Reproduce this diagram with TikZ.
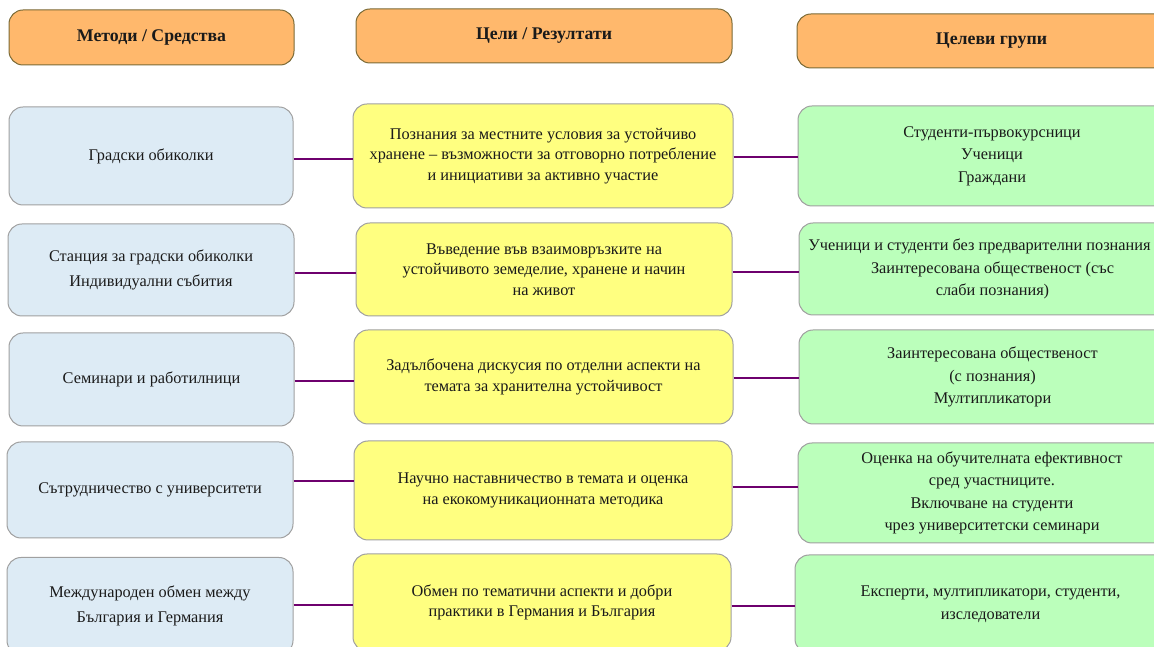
\documentclass[tikz,border=0pt]{standalone}
\usepackage{fontspec}
\setmainfont{Liberation Serif}
\definecolor{headfill}{HTML}{FFB86C}
\definecolor{headline}{HTML}{7A6A36}
\definecolor{methfill}{HTML}{DDEBF5}
\definecolor{goalfill}{HTML}{FFFF80}
\definecolor{groupfill}{HTML}{BBFFBB}
\definecolor{boxline}{HTML}{A0A0A0}
\definecolor{linkcol}{HTML}{6E006E}
\definecolor{textcol}{HTML}{1A1A1A}
\tikzset{
  box/.style={draw=boxline, line width=1bp, rounded corners=14bp, align=center,
    inner sep=0pt, text=textcol, font=\fontsize{16.3bp}{20.5bp}\selectfont},
  headbox/.style={box, draw=headline, fill=headfill,
    font=\fontsize{17.8bp}{20bp}\selectfont\bfseries},
  methbox/.style={box, fill=methfill, font=\fontsize{16.3bp}{25bp}\selectfont},
  goalbox/.style={box, fill=goalfill},
  groupbox/.style={box, fill=groupfill, font=\fontsize{16.3bp}{22.5bp}\selectfont},
  link/.style={draw=linkcol, line width=2.2bp},
}
\begin{document}
\begin{tikzpicture}
\useasboundingbox (0bp,0bp) rectangle (1154bp,647bp);
\clip (0bp,0bp) rectangle (1154bp,647bp);
%%
  % Node: head1
  \node[headbox, minimum width=285bp, minimum height=55bp] (head1) at (151.5bp,609.5bp) {Методи / Средства};
  % Node: head2
  \node[headbox, minimum width=376bp, minimum height=54bp] (head2) at (544bp,611bp) {Цели / Резултати};
  % Node: head3
  \node[headbox, minimum width=389bp, minimum height=54bp] (head3) at (991.5bp,606bp) {Целеви групи};
%
  % Node: m1
  \node[methbox, minimum width=284bp, minimum height=98bp] (m1) at (151bp,491bp) {Градски обиколки};
  % Node: r1
  \node[goalbox, minimum width=380bp, minimum height=104bp] (r1) at (543bp,491bp)
    {Познания за местните условия за устойчиво\\хранене – възможности за отговорно потребление\\и инициативи за активно участие};
  % Node: g1
  \node[groupbox, minimum width=388bp, minimum height=100bp] (g1) at (992bp,491bp)
    {Студенти-първокурсници\\Ученици\\Граждани};
%
  % Node: m2
  \node[methbox, minimum width=286bp, minimum height=92bp] (m2) at (151bp,377bp)
    {Станция за градски обиколки\\Индивидуални събития};
  % Node: r2
  \node[goalbox, minimum width=376bp, minimum height=93bp] (r2) at (544bp,377.5bp)
    {Въведение във взаимовръзките на\\устойчивото земеделие, хранене и начин\\на живот};
  % Node: g2
  \node[groupbox, minimum width=387bp, minimum height=92bp] (g2) at (992.5bp,378bp)
    {\hspace*{-26bp}Ученици и студенти без предварителни познания\\Заинтересована общественост (със\\слаби познания)};
%
  % Node: m3
  \node[methbox, minimum width=285bp, minimum height=93bp] (m3) at (151.5bp,267.5bp) {Семинари и работилници};
  % Node: r3
  \node[goalbox, minimum width=379bp, minimum height=94bp] (r3) at (543.5bp,270bp)
    {Задълбочена дискусия по отделни аспекти на\\темата за хранителна устойчивост};
  % Node: g3
  \node[groupbox, minimum width=387bp, minimum height=94bp] (g3) at (992.5bp,270bp)
    {Заинтересована общественост\\(с познания)\\Мултипликатори};
%
  % Node: m4
  \node[methbox, minimum width=286bp, minimum height=96bp] (m4) at (150bp,157bp) {Сътрудничество с университети};
  % Node: r4
  \node[goalbox, minimum width=378bp, minimum height=99bp] (r4) at (543bp,156.5bp)
    {Научно наставничество в темата и оценка\\на екокомуникационната методика};
  % Node: g4
  \node[groupbox, minimum width=388bp, minimum height=100bp] (g4) at (992bp,154bp)
    {Оценка на обучителната ефективност\\сред участниците.\\Включване на студенти\\чрез университетски семинари};
%
  % Node: m5
  \node[methbox, minimum width=286bp, minimum height=97bp] (m5) at (150bp,41bp)
    {Международен обмен между\\България и Германия};
  % Node: r5
  \node[goalbox, minimum width=378bp, minimum height=97bp] (r5) at (542bp,44.5bp)
    {Обмен по тематични аспекти и добри\\практики в Германия и България};
  % Node: g5
  \node[groupbox, minimum width=391bp, minimum height=98bp] (g5) at (990.5bp,43bp)
    {Експерти, мултипликатори, студенти,\\изследователи};
%
  % Edge: m1 -- r1 -- g1
  \draw[link] (m1.east |- 0bp,488bp) -- (r1.west |- 0bp,488bp);
  \draw[link] (r1.east |- 0bp,490bp) -- (g1.west |- 0bp,490bp);
  % Edge: m2 -- r2 -- g2
  \draw[link] (m2.east |- 0bp,374bp) -- (r2.west |- 0bp,374bp);
  \draw[link] (r2.east |- 0bp,375bp) -- (g2.west |- 0bp,375bp);
  % Edge: m3 -- r3 -- g3
  \draw[link] (m3.east |- 0bp,266bp) -- (r3.west |- 0bp,266bp);
  \draw[link] (r3.east |- 0bp,269bp) -- (g3.west |- 0bp,269bp);
  % Edge: m4 -- r4 -- g4
  \draw[link] (m4.east |- 0bp,166bp) -- (r4.west |- 0bp,166bp);
  \draw[link] (r4.east |- 0bp,160bp) -- (g4.west |- 0bp,160bp);
  % Edge: m5 -- r5 -- g5
  \draw[link] (m5.east |- 0bp,42bp) -- (r5.west |- 0bp,42bp);
  \draw[link] (r5.east |- 0bp,41bp) -- (g5.west |- 0bp,41bp);
%
\end{tikzpicture}
\end{document}
